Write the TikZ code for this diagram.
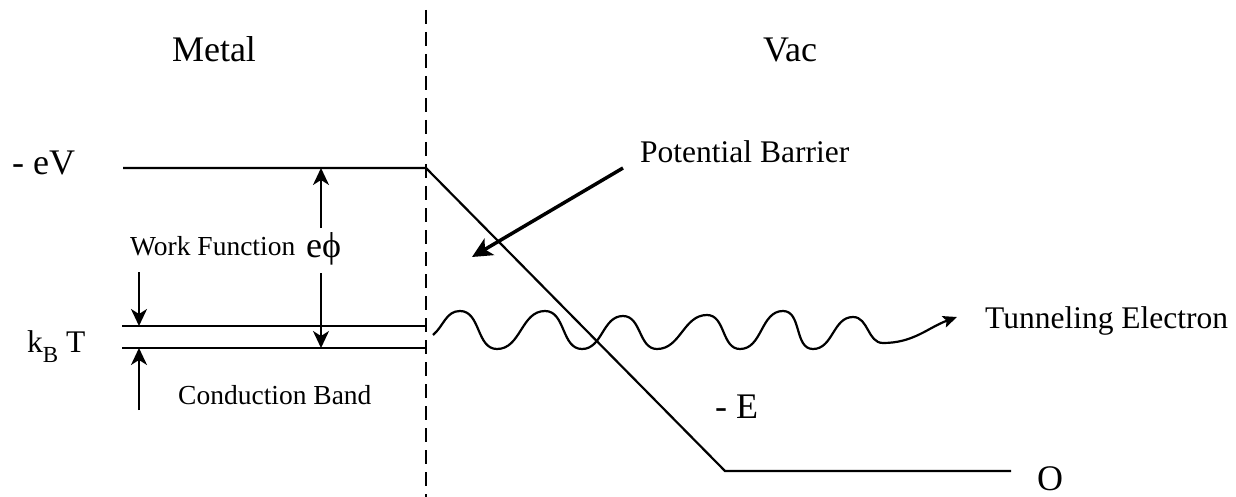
\documentclass[tikz,border=0pt]{standalone}
\usepackage{fontspec}
\setmainfont{Liberation Serif}
\usetikzlibrary{arrows.meta}
\begin{document}
\begin{tikzpicture}[x=1pt,y=-1pt,
  lvl/.style={line width=2.2pt},
  dimarrow/.style={line width=2pt,-{Stealth[length=17pt,width=16pt,inset=5pt]}},
  bigtxt/.style={font=\fontsize{36}{40}\selectfont, inner sep=0pt},
  midtxt/.style={font=\fontsize{31.5}{35}\selectfont, inner sep=0pt},
  smalltxt/.style={font=\fontsize{27.5}{31}\selectfont, inner sep=0pt},
]
\useasboundingbox (0,0) rectangle (1236,497);
% coordinates
\coordinate (dtop) at (426,10);
\coordinate (dbot) at (426,497);
\coordinate (vl) at (123,168);
\coordinate (vr) at (426,168);
\coordinate (bb) at (725,471);
\coordinate (br) at (1011,471);
\coordinate (fl) at (122,326);
\coordinate (fr) at (426,326);
\coordinate (cl) at (122,348);
\coordinate (cr) at (426,348);
% dashed interface
\draw[line width=2.2pt, dash pattern=on 14pt off 8pt] (dtop) -- (dbot);
% levels
\draw[lvl] (vl) -- (vr) -- (bb) -- (br);
\draw[lvl] (fl) -- (fr);
\draw[lvl] (cl) -- (cr);
% texts
\node[bigtxt, anchor=base] (metal) at (214,62) {Metal};
\node[bigtxt, anchor=base] (vac) at (790,62) {Vac};
\node[bigtxt, anchor=base west] (ev) at (12,175) {- eV};
\node[bigtxt, anchor=base] (o) at (1050,490) {O};
\node[bigtxt, anchor=base west] (e) at (715,418) {- E};
\node[bigtxt, anchor=base west] (ephi) at (306,257) {eϕ};
\node[midtxt, anchor=base west] (kbt) at (27,352) {k\raisebox{-10pt}{\fontsize{23}{23}\selectfont B} T};
\node[smalltxt, anchor=base west] (wf) at (130,255) {Work Function};
\node[smalltxt, anchor=base west] (cb) at (178,404) {Conduction Band};
\node[midtxt, anchor=base west] (pb) at (640,163) {Potential Barrier};
\node[midtxt, anchor=base west] (te) at (985,328) {Tunneling Electron};
% arrows
\coordinate (wfs) at (139,272);
\coordinate (wft) at (139,326);
\coordinate (kbs) at (139,410);
\coordinate (kbt2) at (139,348);
\coordinate (ep1s) at (321,228);
\coordinate (ep1t) at (321,168);
\coordinate (ep2s) at (321,273);
\coordinate (ep2t) at (321,348);
\draw[dimarrow] (wfs) -- (wft);
\draw[dimarrow] (kbs) -- (kbt2);
\draw[dimarrow] (ep1s) -- (ep1t);
\draw[dimarrow] (ep2s) -- (ep2t);
\coordinate (pbs) at (623,168);
\coordinate (pbt) at (472,257);
\draw[line width=3.5pt,-{Stealth[length=20pt,width=19pt,inset=5pt]}] (pbs) -- (pbt);
% wave
\coordinate (w0) at (433,335);
\coordinate (wend) at (957,317);
\draw[line width=2.2pt,-{Stealth[length=14pt,width=12pt,inset=3pt]}]
  (w0) to[out=40,in=180] (460,311) to[out=0,in=180] (497,349)
  to[out=0,in=180] (545,311) to[out=0,in=180] (582,349)
  to[out=0,in=180] (623,316) to[out=0,in=180] (657,349)
  to[out=0,in=180] (707,315) to[out=0,in=180] (740,349)
  to[out=0,in=180] (783,311) to[out=0,in=180] (813,349)
  to[out=0,in=180] (853,317) to[out=0,in=180] (883,343)
  to[out=0,in=200] (wend);
\end{tikzpicture}
\end{document}
